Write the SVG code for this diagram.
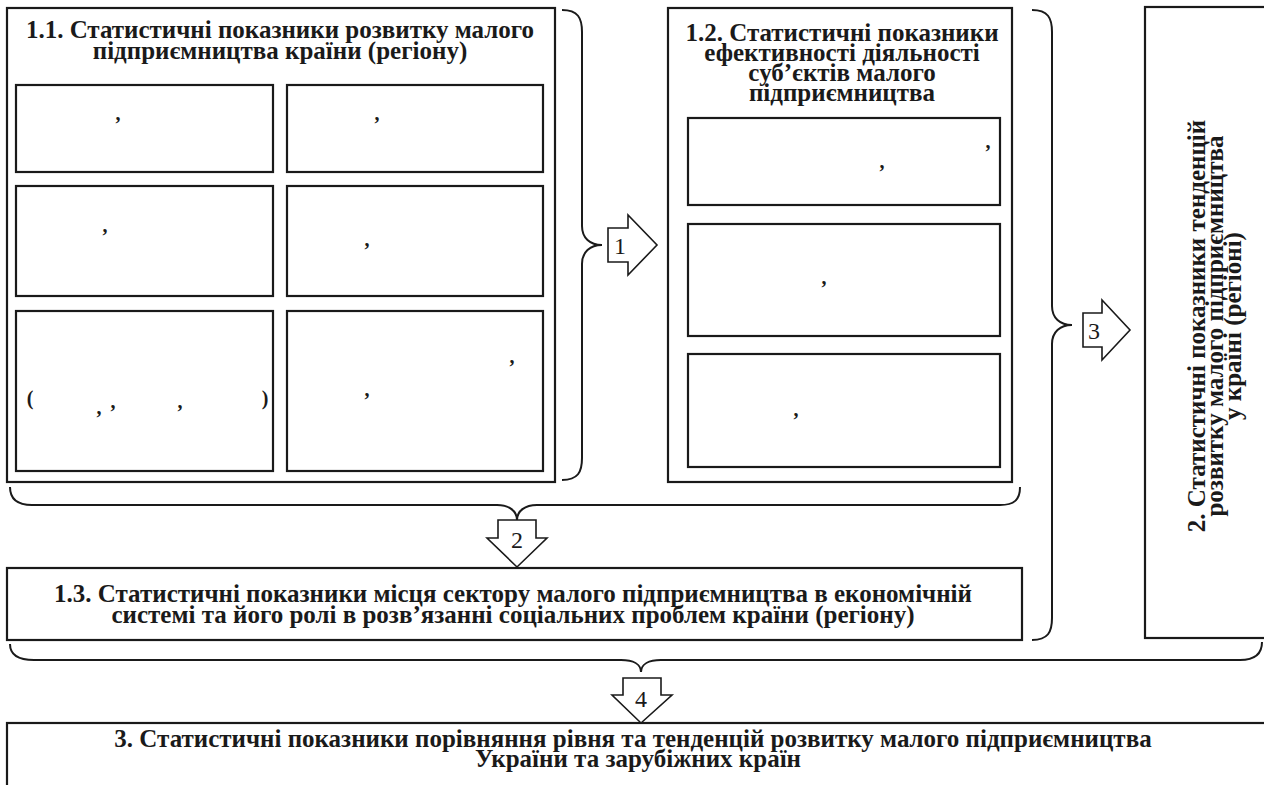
<svg xmlns="http://www.w3.org/2000/svg" width="1264" height="785" viewBox="0 0 1264 785">
<style>
.box{fill:none;stroke:#1a1a1a;stroke-width:2.2}
.inner{fill:none;stroke:#1a1a1a;stroke-width:2.2}
.brace{fill:none;stroke:#1a1a1a;stroke-width:2}
.arrow{fill:#fff;stroke:#1a1a1a;stroke-width:1.6;stroke-linejoin:miter}
.t{font-family:"Liberation Serif","Times New Roman",serif;font-weight:bold;font-size:25px;fill:#1a1a1a;text-anchor:middle}
.n{font-family:"Liberation Serif","Times New Roman",serif;font-size:24px;fill:#1a1a1a;text-anchor:middle}
.p{font-family:"Liberation Serif","Times New Roman",serif;font-weight:bold;font-size:20px;fill:#1a1a1a;text-anchor:middle}
</style>
<rect width="1264" height="785" fill="#fff"/>

<g id="node-1-1">
<rect class="box" x="7" y="8" width="548" height="474"/>
<text class="t" x="280" y="38">1.1. Статистичні показники розвитку малого</text>
<text class="t" x="280" y="59">підприємництва країни (регіону)</text>
</g>
<g id="node-1-1-a"><rect class="inner" x="16" y="85" width="257" height="87"/><text class="p" x="118" y="120">,</text></g>
<g id="node-1-1-b"><rect class="inner" x="287" y="85" width="256" height="87"/><text class="p" x="377" y="120">,</text></g>
<g id="node-1-1-c"><rect class="inner" x="16" y="186" width="257" height="110"/><text class="p" x="105" y="232">,</text></g>
<g id="node-1-1-d"><rect class="inner" x="287" y="186" width="256" height="110"/><text class="p" x="367" y="246">,</text></g>
<g id="node-1-1-e"><rect class="inner" x="16" y="311" width="257" height="160"/>
<text class="p" x="30" y="405">(</text><text class="p" x="99" y="414">,</text><text class="p" x="113" y="408">,</text><text class="p" x="180" y="408">,</text><text class="p" x="265" y="405">)</text></g>
<g id="node-1-1-f"><rect class="inner" x="287" y="311" width="256" height="160"/>
<text class="p" x="512" y="363">,</text><text class="p" x="367" y="396">,</text></g>

<g id="node-1-2">
<rect class="box" x="668" y="8" width="344" height="474"/>
<text class="t" x="842" y="41">1.2. Статистичні показники</text>
<text class="t" x="842" y="61">ефективності діяльності</text>
<text class="t" x="842" y="81">суб’єктів малого</text>
<text class="t" x="842" y="101">підприємництва</text>
</g>
<g id="node-1-2-a"><rect class="inner" x="688" y="118" width="312" height="87"/><text class="p" x="882" y="168">,</text><text class="p" x="988" y="148">,</text></g>
<g id="node-1-2-b"><rect class="inner" x="688" y="224" width="312" height="112"/><text class="p" x="824" y="284">,</text></g>
<g id="node-1-2-c"><rect class="inner" x="688" y="354" width="312" height="113"/><text class="p" x="796" y="416">,</text></g>

<g id="node-1-3">
<rect class="box" x="7" y="568" width="1015" height="72"/>
<text class="t" x="513" y="602">1.3. Статистичні показники місця сектору малого підприємництва в економічній</text>
<text class="t" x="513" y="623">системі та його ролі в розв’язанні соціальних проблем країни (регіону)</text>
</g>

<g id="node-2">
<rect class="box" x="1145" y="7" width="200" height="631"/>
<text class="t" transform="translate(1205,326) rotate(-90)">2. Статистичні показники тенденцій</text>
<text class="t" transform="translate(1223,326) rotate(-90)">розвитку малого підприємництва</text>
<text class="t" transform="translate(1241,326) rotate(-90)">у країні (регіоні)</text>
</g>

<g id="node-3">
<rect class="box" x="7" y="723" width="1300" height="100"/>
<text class="t" x="633" y="747">3. Статистичні показники порівняння рівня та тенденцій розвитку малого підприємництва</text>
<text class="t" x="638" y="767">України та зарубіжних країн</text>
</g>

<g id="connectors">
<path class="brace" d="M562 10 C578 10 582 18 582 32 L582 226 C582 238 590 245 602 245 C590 245 582 252 582 264 L582 458 C582 472 578 480 562 480"/>
<path class="brace" d="M1032 10 C1048 10 1052 18 1052 32 L1052 306 C1052 318 1060 325 1072 325 C1060 325 1052 332 1052 344 L1052 618 C1052 632 1048 640 1032 640"/>
<path class="brace" d="M10 487 C10 500 18 505 32 505 L497 505 C509 505 517 511 517 520 C517 511 525 505 537 505 L1000 505 C1014 505 1020 500 1020 487"/>
<path class="brace" d="M10 644 C10 655 18 660 34 660 L621 660 C633 660 641 664 641 672 C641 664 649 660 661 660 L1240 660 C1254 660 1262 655 1262 642"/>

<g id="arrow-1"><path class="arrow" d="M608 228 L628 228 L628 215 L657 245 L628 275 L628 262 L608 262 Z"/><text class="n" x="620" y="254">1</text></g>
<g id="arrow-2"><path class="arrow" d="M498 520 L536 520 L536 538 L547 538 L517 567 L487 538 L498 538 Z"/><text class="n" x="517" y="548">2</text></g>
<g id="arrow-3"><path class="arrow" d="M1083 313 L1102 313 L1102 300 L1130 330 L1102 360 L1102 347 L1083 347 Z"/><text class="n" x="1094" y="339">3</text></g>
<g id="arrow-4"><path class="arrow" d="M623 678 L661 678 L661 695 L672 695 L641 723 L612 695 L623 695 Z"/><text class="n" x="641" y="707">4</text></g>
</g>
</svg>
